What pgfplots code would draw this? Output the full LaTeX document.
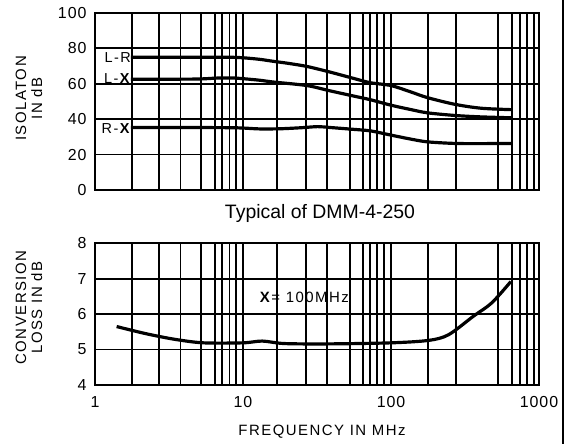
\documentclass[border=0pt]{standalone}
\usepackage{fontspec}
\setmainfont{Liberation Sans}
\newfontfamily\techfont[LetterSpace=10]{Liberation Sans}
\newfontfamily\tickfont[LetterSpace=6]{Liberation Sans}
\usepackage{pgfplots}
\pgfplotsset{compat=1.18}

\pgfplotsset{
  curve/.style={black, line width=3.2pt, smooth, tension=0.5},
}

\begin{document}
\begin{tikzpicture}[x=1bp,y=1bp]
\path[use as bounding box, fill=white] (0,0) rectangle (570,444);

% isolation
\begin{axis}[
    xmode=log, xmin=1, xmax=1000,
    xtick={1,10,100,1000},
    minor xtick={1.77,2.70,3.78,5.23,6.43,7.2,8.1,9.0,
                 17,26.5,37,53,65,72,80,90,
                 177,275,530,658,741,828,923},
    grid=both,
    major grid style={black, line width=1.8pt},
    minor grid style={black, line width=1.8pt},
    axis line style={black, line width=1.9pt},
    tick style={draw=none},
    scale only axis, width=444bp, height=177bp,
    anchor=south west, at={(95bp,254bp)},
    /pgf/number format/assume math mode=true,
    ticklabel style={font=\tickfont\fontsize{16}{18}\selectfont},
    yticklabel style={xshift=-5bp},
    ymin=0, ymax=100, ytick={0,20,40,60,80,100},
    xticklabels={}]
\addplot[curve] coordinates {
 (1.75,75.0)(3,75.0)(5,75.0)(8,75.0)(10,74.7)(13,73.8)(16,72.7)(20,71.6)
 (27,69.8)(38.8,66.6)(55,63.2)(72.5,60.6)(100,59)(135,55.5)(176,52.2)
 (270,48.4)(405,46.2)(645,45.4)};
\addplot[curve] coordinates {
 (1.75,62.6)(3,62.6)(5,62.7)(7,63.3)(9,63.2)(10,62.9)(13,62)(16,61)
 (27,59)(38.8,56)(55,53.2)(72.5,51)(100,47.9)(135,45.5)(176,43.6)
 (270,42.1)(405,41.3)(645,40.8)};
\addplot[curve] coordinates {
 (1.75,35.3)(4,35.3)(8,35.2)(10,35.0)(13,34.5)(18,34.6)(25,35.2)(32,35.8)
 (38.8,35.3)(55,34.3)(72.5,33.4)(100,31)(135,28.8)(176,27.2)
 (270,26.3)(405,26.2)(645,26.3)};
\node[left, inner sep=1bp, yshift=-0.5bp, font=\techfont\fontsize{14.5}{16}\selectfont] at (axis cs:1.78,75.0) {L-R};
\node[left, inner sep=1bp, yshift=0.5bp, font=\techfont\fontsize{14.5}{16}\selectfont] at (axis cs:1.78,62.6) {L-\textbf{X}};
\node[left, inner sep=1bp, yshift=-1bp, font=\techfont\fontsize{14.5}{16}\selectfont] at (axis cs:1.78,35.3) {R-\textbf{X}};
\end{axis}

% conversion loss
\begin{axis}[
    xmode=log, xmin=1, xmax=1000,
    xtick={1,10,100,1000},
    minor xtick={1.77,2.70,3.78,5.23,6.43,7.2,8.1,9.0,
                 17,26.5,37,53,65,72,80,90,
                 177,275,530,658,741,828,923},
    grid=both,
    major grid style={black, line width=1.8pt},
    minor grid style={black, line width=1.8pt},
    axis line style={black, line width=1.9pt},
    tick style={draw=none},
    scale only axis, width=444bp, height=141.7bp,
    anchor=south west, at={(95bp,59bp)},
    /pgf/number format/assume math mode=true,
    ticklabel style={font=\tickfont\fontsize{16}{18}\selectfont},
    yticklabel style={xshift=-5bp},
    xticklabel style={yshift=-8bp},
    ymin=4, ymax=8, ytick={4,5,6,7,8},
    xticklabels={1,10,100,1000}]
\addplot[curve] coordinates {
 (1.4,5.65)(2.2,5.45)(3.45,5.29)(5.4,5.19)(10,5.19)(13.5,5.24)(19,5.17)
 (37,5.16)(100,5.19)(180,5.26)(245,5.42)(360,5.94)(480,6.32)(645,6.92)};
\node[font=\techfont\fontsize{15}{17}\selectfont] at (axis cs:26,6.46) {\textbf{X}= 100MHz};
\end{axis}

\node[font=\fontsize{19.5}{22}\selectfont] at (320,231) {Typical of DMM-4-250};
\node[font=\techfont\fontsize{15}{17}\selectfont] at (322,12) {FREQUENCY IN MHz};
\node[rotate=90, align=center, font=\techfont\fontsize{15}{16}\selectfont] at (29,345.5) {ISOLATON\\IN dB};
\node[rotate=90, align=center, font=\techfont\fontsize{15}{16}\selectfont] at (29,136.5) {CONVERSION\\LOSS IN dB};
\draw[black, line width=2pt] (563,0) -- (563,444);
\end{tikzpicture}
\end{document}
